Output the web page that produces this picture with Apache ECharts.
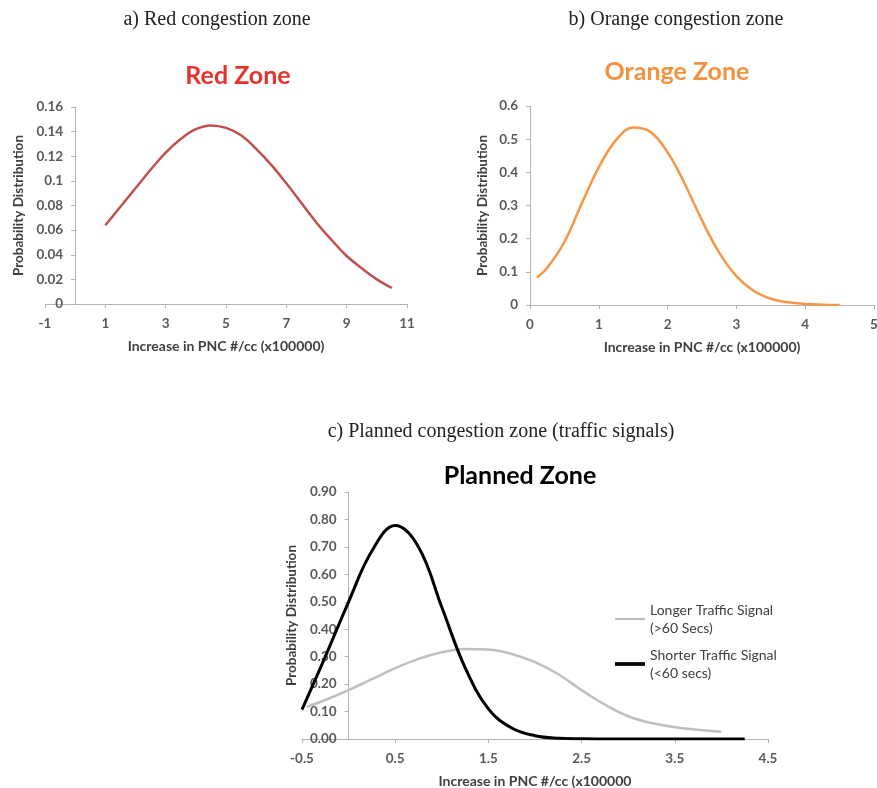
<!DOCTYPE html>
<html>
<head>
<meta charset="utf-8">
<script src="https://cdn.jsdelivr.net/npm/echarts@6/dist/echarts.min.js"></script>
<style>
html,body{margin:0;padding:0;background:#fff;}
#main{width:877px;height:788px;}
</style>
</head>
<body>
<div id="main"></div>
<script>
// ---- Data ----
const redPNC  = [1, 1.5, 2, 2.5, 3, 3.5, 4, 4.5, 5, 5.5, 6, 6.5, 7, 7.5, 8, 8.5, 9, 9.5, 10, 10.5];
const redProb = [0.064, 0.079, 0.094, 0.109, 0.123, 0.134, 0.142, 0.145, 0.143, 0.137, 0.126, 0.113, 0.098, 0.082, 0.066, 0.052, 0.039, 0.029, 0.020, 0.013];

const orangePNC  = [0.1, 0.25, 0.5, 0.75, 1, 1.25, 1.5, 1.75, 2, 2.25, 2.5, 2.75, 3, 3.25, 3.5, 3.75, 4, 4.25, 4.5];
const orangeProb = [0.082, 0.112, 0.19, 0.305, 0.415, 0.497, 0.535, 0.522, 0.46, 0.365, 0.255, 0.158, 0.087, 0.043, 0.019, 0.008, 0.003, 0.001, 0.0];

const longerPNC  = [-0.45, -0.25, 0, 0.25, 0.5, 0.75, 1, 1.25, 1.5, 1.75, 2, 2.25, 2.5, 2.75, 3, 3.25, 3.5, 3.75, 4];
const longerProb = [0.117, 0.142, 0.178, 0.218, 0.258, 0.292, 0.316, 0.328, 0.326, 0.31, 0.28, 0.236, 0.178, 0.125, 0.083, 0.058, 0.043, 0.034, 0.026];

const shorterPNC  = [-0.5, -0.25, 0, 0.25, 0.5, 0.75, 1, 1.25, 1.5, 1.75, 2, 2.25, 2.5, 2.75, 3, 3.25, 3.5, 3.75, 4, 4.25];
const shorterProb = [0.107, 0.30, 0.50, 0.685, 0.778, 0.70, 0.48, 0.26, 0.11, 0.04, 0.012, 0.003, 0.001, 0, 0, 0, 0, 0, 0, 0];

const seriesNames = ['Longer Traffic Signal\n(>60 Secs)', 'Shorter Traffic Signal\n(<60 secs)'];
const xName = 'Increase in PNC #/cc (x100000)';
const xNameC = 'Increase in PNC #/cc (x100000';
const yName = 'Probability Distribution';

// ---- Build options ----
const pairs = (xs, ys) => xs.map((x, i) => [x, ys[i]]);
const axisGray = '#b3b3b3';
const labelStyle = { color: '#595959', fontWeight: 'bold', fontSize: 13.5, fontFamily: 'Lato' };
const nameStyle = { color: '#404040', fontWeight: 'bold', fontSize: 14, fontFamily: 'Lato' };

function xAx(idx, min, max, interval, name) {
  return {
    type: 'value', gridIndex: idx, min, max, interval,
    name, nameLocation: 'middle', nameGap: 35,
    nameTextStyle: nameStyle,
    axisLine: { show: true, onZero: false, lineStyle: { color: axisGray, width: 1 } },
    axisTick: { show: true, length: 4, lineStyle: { color: axisGray } },
    axisLabel: Object.assign({ margin: 13 }, labelStyle),
    splitLine: { show: false }
  };
}
// offset moves the y axis from the grid's left edge to where x = 0
function yAx(idx, min, max, interval, gap, offset, fmt) {
  const lab = Object.assign({ margin: 12 }, labelStyle);
  if (fmt) lab.formatter = fmt;
  return {
    type: 'value', gridIndex: idx, min, max, interval, offset,
    name: yName, nameLocation: 'middle', nameGap: gap,
    nameTextStyle: Object.assign({}, nameStyle, { fontSize: 13.5 }),
    axisLine: { show: true, onZero: false, lineStyle: { color: axisGray, width: 1 } },
    axisTick: { show: true, length: 4, lineStyle: { color: axisGray } },
    axisLabel: lab,
    splitLine: { show: false }
  };
}
function txt(x, y, text, font, fill) {
  return { type: 'text', x, y, style: { text, font, fill, textAlign: 'center', textVerticalAlign: 'middle', align: 'center', verticalAlign: 'middle' } };
}

const gridA = { left: 45, top: 107, width: 362, height: 197 };
const gridB = { left: 530, top: 106, width: 344, height: 199 };
const gridC = { left: 302, top: 492, width: 466, height: 247 };
// pixel distance from grid left edge to x = 0
const zeroOff = (g, min, max) => -(g.width * (0 - min) / (max - min));

const lineSeries = (name, xi, xs, ys, color, width) => ({
  name, type: 'line', xAxisIndex: xi, yAxisIndex: xi, data: pairs(xs, ys),
  smooth: 0.4, showSymbol: false,
  lineStyle: { color, width }, itemStyle: { color }
});

const option = {
  backgroundColor: '#fff',
  animation: false,
  graphic: [
    txt(217, 20, 'a) Red congestion zone', '20px "Liberation Serif"', '#222'),
    txt(676, 20, 'b) Orange congestion zone', '20px "Liberation Serif"', '#222'),
    txt(501, 432, 'c) Planned congestion zone (traffic signals)', '20px "Liberation Serif"', '#222'),
    txt(238, 76, 'Red Zone', 'bold 25px Lato', '#e5322d'),
    txt(677, 72, 'Orange Zone', 'bold 25px Lato', '#f4913f'),
    txt(520, 476, 'Planned Zone', 'bold 25px Lato', '#000')
  ],
  grid: [
    Object.assign({ containLabel: false, outerBoundsMode: 'none' }, gridA),
    Object.assign({ containLabel: false, outerBoundsMode: 'none' }, gridB),
    Object.assign({ containLabel: false, outerBoundsMode: 'none' }, gridC)
  ],
  xAxis: [
    xAx(0, -1, 11, 2, xName),
    xAx(1, 0, 5, 1, xName),
    xAx(2, -0.5, 4.5, 1, xNameC)
  ],
  yAxis: [
    yAx(0, 0, 0.16, 0.02, 50, zeroOff(gridA, -1, 11)),
    yAx(1, 0, 0.6, 0.1, 40, 0),
    yAx(2, 0, 0.9, 0.1, 47, zeroOff(gridC, -0.5, 4.5), v => v.toFixed(2))
  ],
  legend: {
    data: [
      { name: seriesNames[0], icon: 'path://M0,6 L28,6 L28,8.2 L0,8.2 Z' },
      { name: seriesNames[1], icon: 'path://M0,5 L28,5 L28,8.5 L0,8.5 Z' }
    ],
    orient: 'vertical',
    left: 610, top: 587,
    itemWidth: 30, itemHeight: 14, itemGap: -9,
    textStyle: { color: '#404040', fontSize: 14, fontFamily: 'Lato', lineHeight: 18, padding: [18, 0, 0, 0] }
  },
  series: [
    lineSeries('Red Zone', 0, redPNC, redProb, '#c0504d', 2.5),
    lineSeries('Orange Zone', 1, orangePNC, orangeProb, '#f79646', 2.5),
    lineSeries(seriesNames[0], 2, longerPNC, longerProb, '#bfbfbf', 2.5),
    lineSeries(seriesNames[1], 2, shorterPNC, shorterProb, '#000', 3)
  ]
};

const chart = echarts.init(document.getElementById('main'), null, { renderer: 'canvas' });
chart.setOption(option);
</script>
</body>
</html>
